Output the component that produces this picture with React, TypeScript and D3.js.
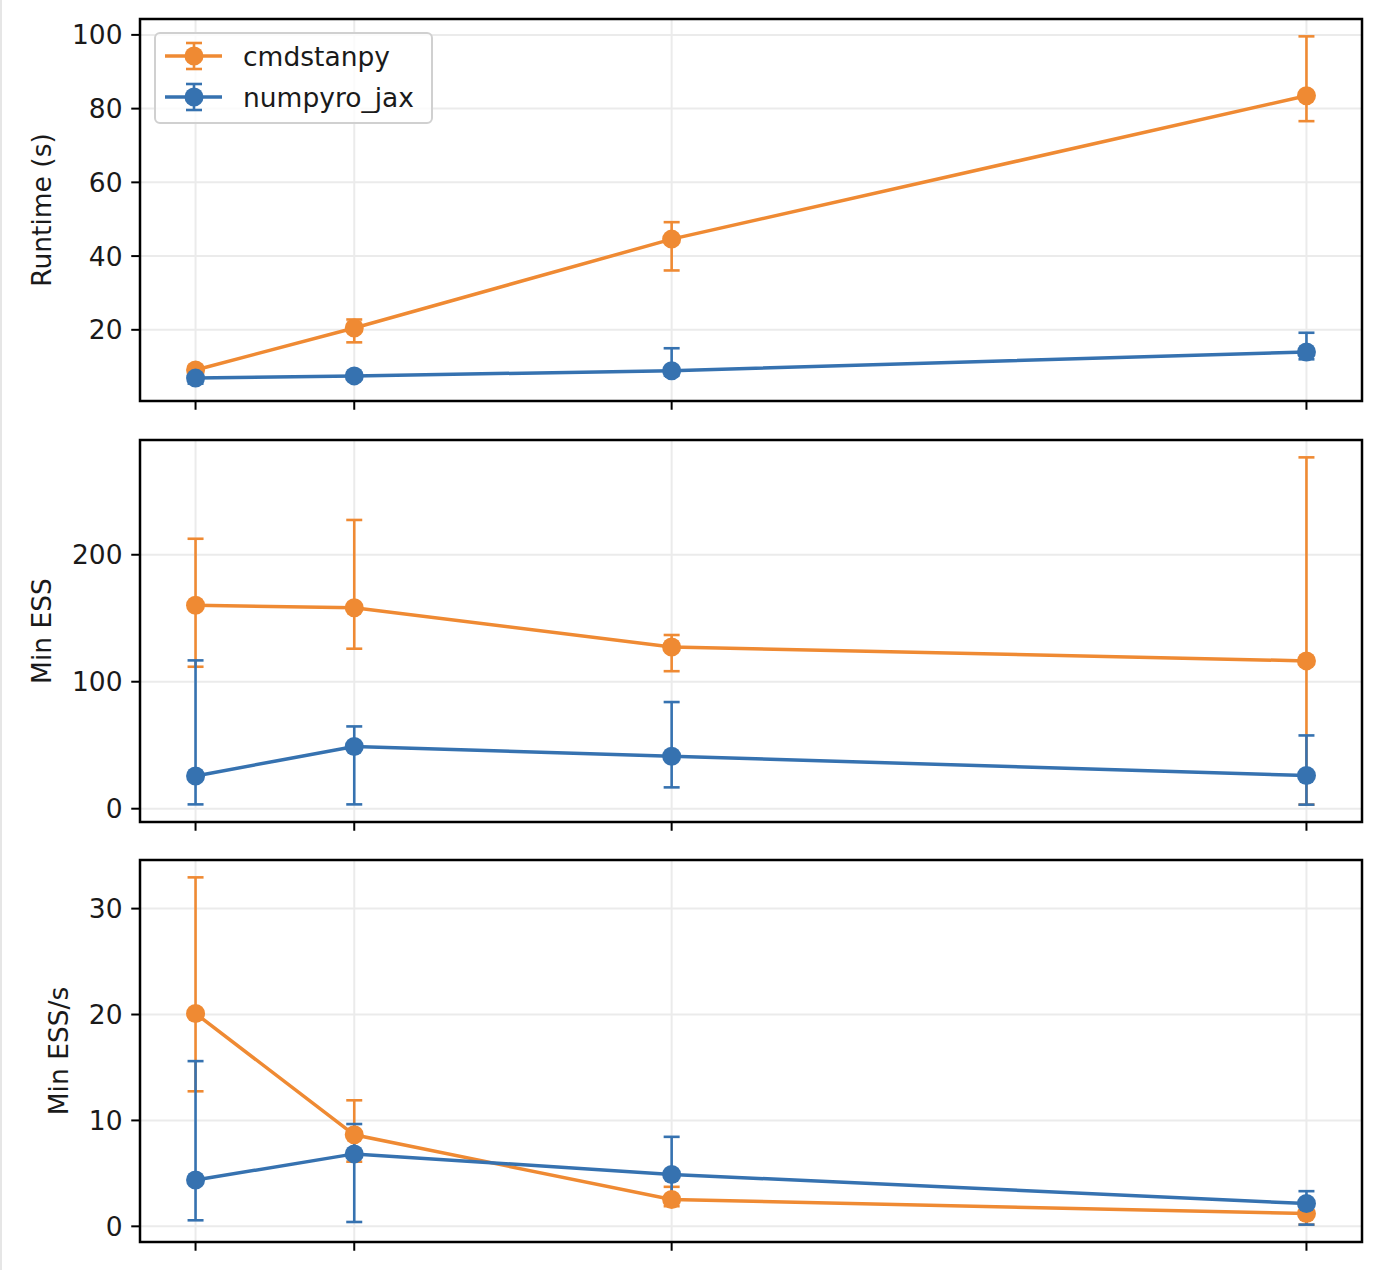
import React from 'react';
import * as d3 from 'd3';

// x positions (shared by all panels)
const xVals = [1, 2, 4, 8];

const seriesNames = ['cmdstanpy', 'numpyro_jax'];
const seriesColors = ['#ef8a33', '#3672b0'];

// Runtime (s)
const runtimeCmd = [9.1, 20.5, 44.6, 83.5];
const runtimeCmdLo = [8.0, 16.6, 36.1, 76.6];
const runtimeCmdHi = [10.2, 22.8, 49.2, 99.6];
const runtimeNp = [6.9, 7.5, 8.9, 14.0];
const runtimeNpLo = [5.4, 6.6, 7.6, 12.0];
const runtimeNpHi = [8.2, 8.5, 15.0, 19.2];

// Min ESS
const essCmd = [160.2, 158.3, 127.3, 116.4];
const essCmdLo = [111.8, 126.0, 108.3, 3.2];
const essCmdHi = [212.6, 227.4, 136.8, 276.7];
const essNp = [25.8, 49.0, 41.3, 26.1];
const essNpLo = [3.4, 3.4, 16.8, 3.2];
const essNpHi = [116.8, 64.8, 84.0, 57.7];

// Min ESS/s
const esssCmd = [20.1, 8.64, 2.53, 1.2];
const esssCmdLo = [12.75, 6.1, 1.9, 0.16];
const esssCmdHi = [32.95, 11.9, 3.73, 2.0];
const esssNp = [4.37, 6.84, 4.9, 2.15];
const esssNpLo = [0.57, 0.41, 2.3, 0.16];
const esssNpHi = [15.6, 9.66, 8.45, 3.32];

const runtimeTicks = [20, 40, 60, 80, 100];
const essTicks = [0, 100, 200];
const esssTicks = [0, 10, 20, 30];

const panels = [
  {
    label: 'Runtime (s)', ticks: runtimeTicks, legend: true,
    series: [
      { y: runtimeCmd, lo: runtimeCmdLo, hi: runtimeCmdHi },
      { y: runtimeNp, lo: runtimeNpLo, hi: runtimeNpHi },
    ],
  },
  {
    label: 'Min ESS', ticks: essTicks, legend: false,
    series: [
      { y: essCmd, lo: essCmdLo, hi: essCmdHi },
      { y: essNp, lo: essNpLo, hi: essNpHi },
    ],
  },
  {
    label: 'Min ESS/s', ticks: esssTicks, legend: false,
    series: [
      { y: esssCmd, lo: esssCmdLo, hi: esssCmdHi },
      { y: esssNp, lo: esssNpLo, hi: esssNpHi },
    ],
  },
];

const W = 1374;
const H = 1270;
const left = 140;
const right = 1362;
const panelTops = [19, 440, 860];
const panelH = 382;
const fs = 26.5;
const font = '"DejaVu Sans", sans-serif';
const tickLen = 8.75;
const tickPad = 8.75;
const capW = 8;
const markerR = 9.5;
const lineW = 3.5;

// matplotlib-style 5% margins
const padded = (lo: number, hi: number) => {
  const m = (hi - lo) * 0.05;
  return [lo - m, hi + m];
};

const x = d3.scaleLinear()
  .domain(padded(d3.min(xVals)!, d3.max(xVals)!))
  .range([left, right]);

const Panel: React.FC<{ p: typeof panels[number]; top: number }> = ({ p, top }) => {
  const lo = d3.min(p.series.flatMap(s => s.lo))!;
  const hi = d3.max(p.series.flatMap(s => s.hi))!;
  const y = d3.scaleLinear().domain(padded(lo, hi)).range([top + panelH, top]);
  const line = d3.line<number>().x((_, i) => x(xVals[i])).y(v => y(v));
  const maxChars = d3.max(p.ticks, t => String(t).length)!;
  const tickLabelLeft = left - tickLen - tickPad - maxChars * 0.636 * fs;
  const labelX = tickLabelLeft - 21;
  const midY = top + panelH / 2;

  return (
    <g>
      {/* grid */}
      {p.ticks.map(t => (
        <line key={'gy' + t} x1={left} x2={right} y1={y(t)} y2={y(t)} stroke="#ebebeb" strokeWidth={2} />
      ))}
      {xVals.map(v => (
        <line key={'gx' + v} x1={x(v)} x2={x(v)} y1={top} y2={top + panelH} stroke="#ebebeb" strokeWidth={2} />
      ))}

      {/* error bars */}
      {p.series.map((s, si) => (
        <g key={'eb' + si} stroke={seriesColors[si]} strokeWidth={2.6}>
          {xVals.map((v, i) => (
            <g key={i}>
              <line x1={x(v)} x2={x(v)} y1={y(s.lo[i])} y2={y(s.hi[i])} />
              <line x1={x(v) - capW} x2={x(v) + capW} y1={y(s.lo[i])} y2={y(s.lo[i])} />
              <line x1={x(v) - capW} x2={x(v) + capW} y1={y(s.hi[i])} y2={y(s.hi[i])} />
            </g>
          ))}
        </g>
      ))}

      {/* lines + markers */}
      {p.series.map((s, si) => (
        <g key={'ln' + si}>
          <path d={line(s.y)!} fill="none" stroke={seriesColors[si]} strokeWidth={lineW} />
          {s.y.map((v, i) => (
            <circle key={i} cx={x(xVals[i])} cy={y(v)} r={markerR} fill={seriesColors[si]} />
          ))}
        </g>
      ))}

      {/* frame */}
      <rect x={left} y={top} width={right - left} height={panelH} fill="none" stroke="#000" strokeWidth={2.5} />

      {/* y ticks */}
      {p.ticks.map(t => (
        <g key={'ty' + t}>
          <line x1={left - tickLen} x2={left} y1={y(t)} y2={y(t)} stroke="#000" strokeWidth={2} />
          <text x={left - tickLen - tickPad} y={y(t)} textAnchor="end" dominantBaseline="central"
            fontFamily={font} fontSize={fs} fill="#1a1a1a">{t}</text>
        </g>
      ))}
      {/* x ticks (no labels) */}
      {xVals.map(v => (
        <line key={'tx' + v} x1={x(v)} x2={x(v)} y1={top + panelH} y2={top + panelH + tickLen} stroke="#000" strokeWidth={2} />
      ))}

      <text transform={`translate(${labelX},${midY}) rotate(-90)`} textAnchor="middle"
        fontFamily={font} fontSize={fs} fill="#1a1a1a">{p.label}</text>

      {p.legend && (
        <g>
          <rect x={155} y={33} width={277} height={90} rx={5} fill="#fff" fillOpacity={0.8} stroke="#d0d0d0" strokeWidth={2} />
          {seriesNames.map((name, i) => {
            const ry = 56 + i * 41;
            const c = seriesColors[i];
            return (
              <g key={name}>
                <line x1={165} x2={222} y1={ry} y2={ry} stroke={c} strokeWidth={lineW} />
                <g stroke={c} strokeWidth={2.6}>
                  <line x1={194} x2={194} y1={ry - 13} y2={ry + 13} />
                  <line x1={194 - capW} x2={194 + capW} y1={ry - 13} y2={ry - 13} />
                  <line x1={194 - capW} x2={194 + capW} y1={ry + 13} y2={ry + 13} />
                </g>
                <circle cx={194} cy={ry} r={markerR} fill={c} />
                <text x={243} y={ry} dominantBaseline="central" fontFamily={font} fontSize={fs} fill="#1a1a1a">{name}</text>
              </g>
            );
          })}
        </g>
      )}
    </g>
  );
};

export default function App() {
  return (
    <svg width={W} height={H} viewBox={`0 0 ${W} ${H}`}
      style={{ position: 'absolute', left: 0, top: 0, background: '#fff' }}>
      <rect x={0} y={0} width={W} height={H} fill="#fff" />
      <line x1={1} x2={1} y1={0} y2={H} stroke="#e6e6e6" strokeWidth={2} />
      {panels.map((p, i) => (
        <Panel key={p.label} p={p} top={panelTops[i]} />
      ))}
    </svg>
  );
}
